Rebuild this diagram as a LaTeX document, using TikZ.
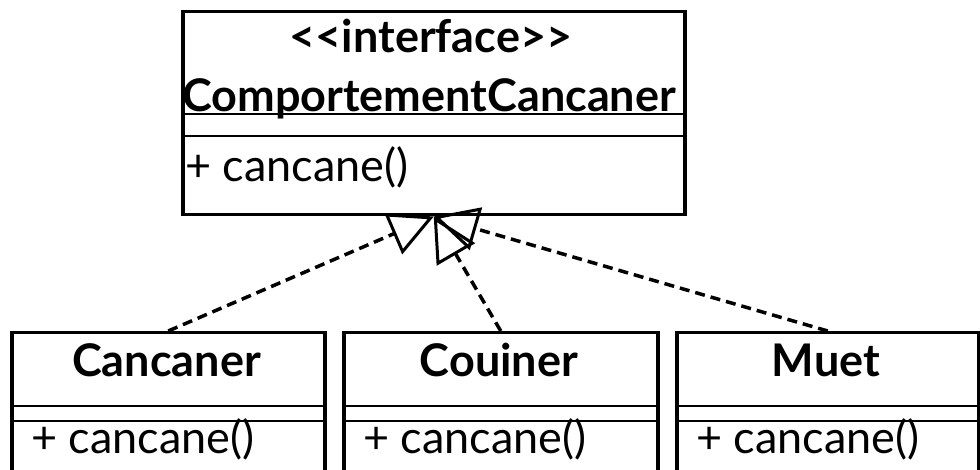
\documentclass[tikz,border=0pt]{standalone}
\usepackage{fontspec}
\setmainfont{Lato}
\usetikzlibrary{arrows.meta}

\tikzset{
    classbox/.style={rectangle, draw, line width=3.5pt, inner sep=0pt, anchor=north west},
    sepline/.style={line width=1.2pt},
    classname/.style={anchor=base, inner sep=0pt, font=\fontsize{45}{54}\selectfont\bfseries},
    methodname/.style={anchor=base west, inner sep=0pt, font=\fontsize{45}{54}\selectfont},
    realize/.style={line width=3.5pt, dash pattern=on 10pt off 6pt,
        -{Triangle[open, length=44pt, width=44pt, line width=3pt]}}
}

\begin{document}
\begin{tikzpicture}[x=1pt, y=-1pt]
        \useasboundingbox (0,0) rectangle (980,470);

        % interface
        \node[classbox, minimum width=502pt, minimum height=203pt] (iface) at (181,10) {};
        \node[classname] (ifacestereo) at (431,53) {<{}<interface>{}>};
        \node[classname] (ifacename) at (429,112) {ComportementCancaner};
        \draw[sepline] (181,114) -- (683,114);
        \draw[sepline] (181,136) -- (683,136);
        \node[methodname] (ifacemethod) at (185,182) {+ cancane()};

        % classes
        \node[classbox, minimum width=313pt, minimum height=150pt] (cancaner) at (10,331) {};
        \node[classname] (cancanername) at (166.5,377) {Cancaner};
        \draw[sepline] (10,406) -- (323,406);
        \draw[sepline] (10,421) -- (323,421);
        \node[methodname] (cancanermethod) at (31,453) {+ cancane()};

        \node[classbox, minimum width=314pt, minimum height=150pt] (couiner) at (342,331) {};
        \node[classname] (couinername) at (499,377) {Couiner};
        \draw[sepline] (342,406) -- (656,406);
        \draw[sepline] (342,421) -- (656,421);
        \node[methodname] (couinermethod) at (363,453) {+ cancane()};

        \node[classbox, minimum width=302pt, minimum height=150pt] (muet) at (675,331) {};
        \node[classname] (muetname) at (826,377) {Muet};
        \draw[sepline] (675,406) -- (977,406);
        \draw[sepline] (675,421) -- (977,421);
        \node[methodname] (muetmethod) at (696,453) {+ cancane()};

        % realizations
        \draw[realize] (cancaner.north) -- (iface.south);
        \draw[realize] (couiner.north) -- (iface.south);
        \draw[realize] (muet.north) -- (iface.south);
    \end{tikzpicture}
\end{document}
